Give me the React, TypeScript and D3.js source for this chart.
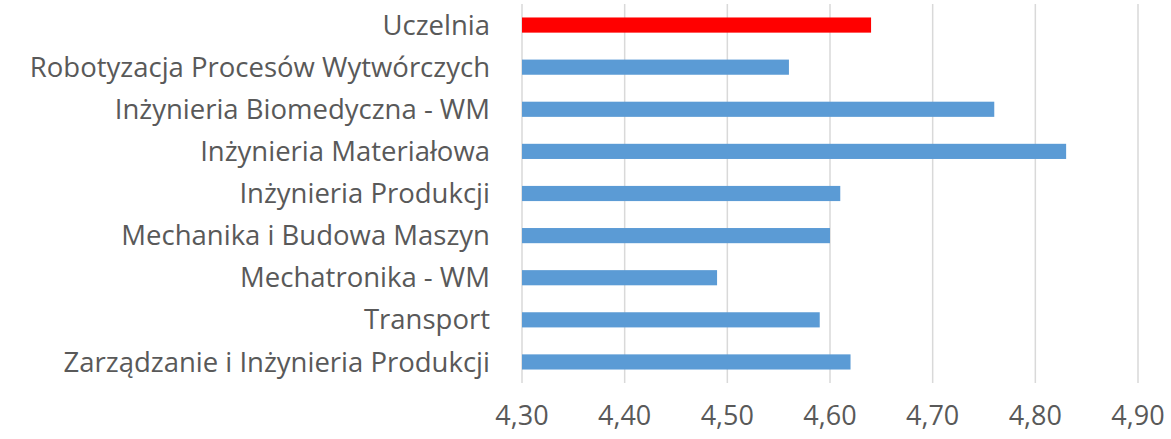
import React, { useEffect, useRef } from "react";
import * as d3 from "d3";

const categories = [
  "Uczelnia",
  "Robotyzacja Procesów Wytwórczych",
  "Inżynieria Biomedyczna - WM",
  "Inżynieria Materiałowa",
  "Inżynieria Produkcji",
  "Mechanika i Budowa Maszyn",
  "Mechatronika - WM",
  "Transport",
  "Zarządzanie i Inżynieria Produkcji",
];
const values = [4.64, 4.56, 4.76, 4.83, 4.61, 4.6, 4.49, 4.59, 4.62];
const xTicks = [4.3, 4.4, 4.5, 4.6, 4.7, 4.8, 4.9];

const W = 1171;
const H = 439;

export default function App() {
  const ref = useRef<SVGSVGElement>(null);

  useEffect(() => {
    const svg = d3.select(ref.current);
    svg.selectAll("*").remove();
    const margin = { top: 4, right: 33, bottom: 56, left: 522 };
    const w = W - margin.left - margin.right;
    const h = H - margin.top - margin.bottom;
    const g = svg.append("g").attr("transform", `translate(${margin.left},${margin.top})`);

    const x = d3.scaleLinear().domain([4.3, 4.9]).range([0, w]);
    const y = d3.scaleBand().domain(categories).range([0, h]).paddingInner(0.64).paddingOuter(0.32);

    // gridlines
    g.selectAll(".grid")
      .data(xTicks)
      .join("line")
      .attr("class", "grid")
      .attr("x1", (d) => x(d))
      .attr("x2", (d) => x(d))
      .attr("y1", 0)
      .attr("y2", h)
      .attr("stroke", "#d9d9d9")
      .attr("stroke-width", 1.5);

    g.selectAll(".bar")
      .data(values)
      .join("rect")
      .attr("class", "bar")
      .attr("x", x(4.3))
      .attr("y", (d, i) => y(categories[i]) as number)
      .attr("width", (d) => x(d) - x(4.3))
      .attr("height", y.bandwidth())
      .attr("fill", (d, i) => (i === 0 ? "#ff0000" : "#5b9bd5"));

    g.selectAll(".ylab")
      .data(categories)
      .join("text")
      .attr("class", "ylab")
      .attr("x", -32)
      .attr("y", (d) => (y(d) as number) + y.bandwidth() / 2)
      .attr("dy", "0.35em")
      .attr("text-anchor", "end")
      .attr("fill", "#595959")
      .style("font-family", "'Open Sans', sans-serif")
      .style("font-size", "27.5px")
      .text((d) => d);

    g.selectAll(".xlab")
      .data(xTicks)
      .join("text")
      .attr("class", "xlab")
      .attr("x", (d) => x(d))
      .attr("y", h + 33)
      .attr("dy", "0.35em")
      .attr("text-anchor", "middle")
      .attr("fill", "#595959")
      .style("font-family", "'Open Sans', sans-serif")
      .style("font-size", "27px")
      .text((d) => d3.format(".2f")(d).replace(".", ","));
  }, []);

  return (
    <svg
      ref={ref}
      width={W}
      height={H}
      style={{ position: "absolute", left: 0, top: 0, background: "#fff" }}
    />
  );
}
